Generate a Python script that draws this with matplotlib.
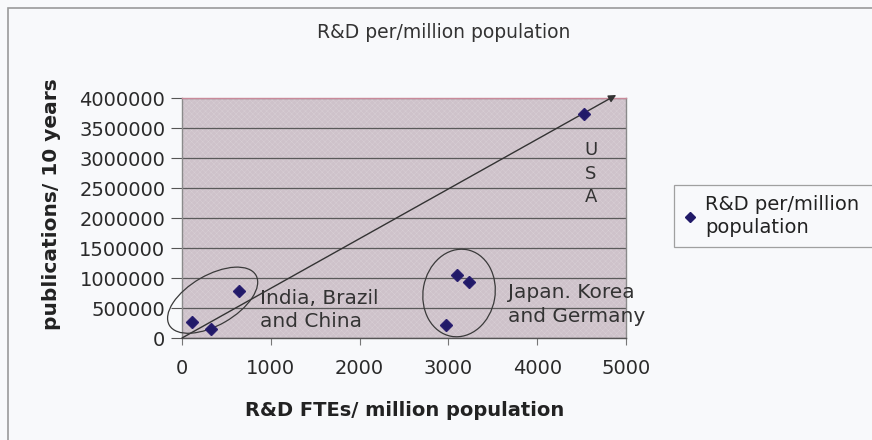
import matplotlib
matplotlib.use("Agg")
import matplotlib.pyplot as plt
from matplotlib.patches import Ellipse, Rectangle
from matplotlib.transforms import ScaledTranslation
from matplotlib.lines import Line2D

# R&D full-time equivalents per million population vs publications over 10 years
rd_ftes = [110, 330, 640, 2970, 3100, 3230, 4530]
publications = [270000, 145000, 790000, 215000, 1050000, 940000, 3730000]

series_name = "R&D per/million\npopulation"
x_ticks = [0, 1000, 2000, 3000, 4000, 5000]
y_ticks = [0, 500000, 1000000, 1500000, 2000000, 2500000, 3000000, 3500000, 4000000]

# trend arrow (start and end in data units)
arrow_start = (0, 0)
arrow_end = (4890, 4050000)

plt.rcParams['font.family'] = ['DejaVu Sans']
plt.rcParams['hatch.linewidth'] = 0.3

W, H = 872, 440
fig = plt.figure(figsize=(W / 100, H / 100), dpi=100)
fig.patch.set_facecolor('#f8f9fb')

ax = fig.add_axes([182 / W, (H - 338) / H, 444 / W, 240 / H])
ax.set_facecolor('#cec2ca')
ax.add_patch(Rectangle((0, 0), 1, 1, transform=ax.transAxes, facecolor='none',
                       hatch='xxxxxx', edgecolor='#d9d0d6', linewidth=0, zorder=0.5))

ax.set_xlim(0, 5000)
ax.set_ylim(0, 4000000)
ax.set_xticks(x_ticks)
ax.set_yticks(y_ticks)
ax.set_xticklabels([str(v) for v in x_ticks])
ax.set_yticklabels([str(v) for v in y_ticks])
ax.tick_params(axis='both', labelsize=14, colors='#333333', labelcolor='#2a2a2a')
ax.tick_params(axis='y', length=8, width=0.8, pad=4, color='#555555')
ax.tick_params(axis='x', length=5, width=0.8, pad=10, color='#777777')

ax.grid(axis='y', color='#5a5a5a', linewidth=0.9, zorder=1)
ax.set_axisbelow(True)
for side, col in [('left', '#8a8a8a'), ('bottom', '#555555'), ('right', '#8a8a8a'), ('top', '#c98a9a')]:
    ax.spines[side].set_color(col)
    ax.spines[side].set_linewidth(1.0)

ax.plot(rd_ftes, publications, linestyle='none', marker='D', markersize=6.5,
        color='#211a68', markeredgecolor='#2a1f70', zorder=4)

ax.annotate('', xy=arrow_end, xytext=arrow_start, annotation_clip=False,
            arrowprops=dict(arrowstyle='-|>', color='#333333', lw=1.0,
                            mutation_scale=11, shrinkA=0, shrinkB=0), zorder=3)

# hand-drawn style loops around the country groups
def loop(cx, cy, w_in, h_in, angle):
    tr = fig.dpi_scale_trans + ScaledTranslation(cx, cy, ax.transData)
    ax.add_patch(Ellipse((0, 0), w_in, h_in, angle=angle, transform=tr,
                         fill=False, edgecolor='#3a3a3a', linewidth=0.9,
                         zorder=3, clip_on=False))

loop(345, 630000, 1.0, 0.5, 30)
loop(3120, 750000, 0.72, 0.88, -10)

ax.text(880, 466000, "India, Brazil\nand China", fontsize=14.5, color='#333333',
        ha='left', va='center', linespacing=1.3, zorder=5)
ax.text(3671, 558000, "Japan. Korea\nand Germany", fontsize=14.5, color='#333333',
        ha='left', va='center', linespacing=1.35, zorder=5)
ax.text(4606, 2740000, "U\nS\nA", fontsize=13, color='#333333',
        ha='center', va='center', linespacing=1.42, zorder=5)

fig.text(444 / W, 1 - 33 / H, "R&D per/million population", fontsize=13.5,
         color='#333333', ha='center', va='center')
ax.set_xlabel("R&D FTEs/ million population", fontsize=14, fontweight='bold',
              color='#222222')
ax.xaxis.set_label_coords((405 - 182) / 444, (338 - 401) / 240)
ax.set_ylabel("publications/ 10 years", fontsize=14.5, fontweight='bold',
              color='#222222')
ax.yaxis.set_label_coords((61 - 182) / 444, (338 - 204) / 240)

handle = Line2D([], [], linestyle='none', marker='D', markersize=5,
                color='#211a68')
leg = fig.legend([handle], [series_name], loc='upper left', mode='expand',
                 bbox_to_anchor=(674 / W, 1 - 185 / H, 230 / W, 0),
                 borderaxespad=0, fontsize=14, frameon=True, fancybox=False,
                 handlelength=0.6, handletextpad=0.5, borderpad=0.5,
                 labelspacing=0.3)
leg.get_frame().set_edgecolor('#8a8a8a')
leg.get_frame().set_facecolor('#f8f9fb')
leg.get_frame().set_linewidth(0.9)
for t in leg.get_texts():
    t.set_color('#222222')
    t.set_linespacing(1.3)

# outer chart frame
fig.add_artist(Rectangle((8 / W, -0.1), 2, (H - 8) / H + 0.1,
                         transform=fig.transFigure, fill=False,
                         edgecolor='#9a9a9a', linewidth=1.2))

fig.savefig('out.png', dpi=100, facecolor=fig.get_facecolor())
